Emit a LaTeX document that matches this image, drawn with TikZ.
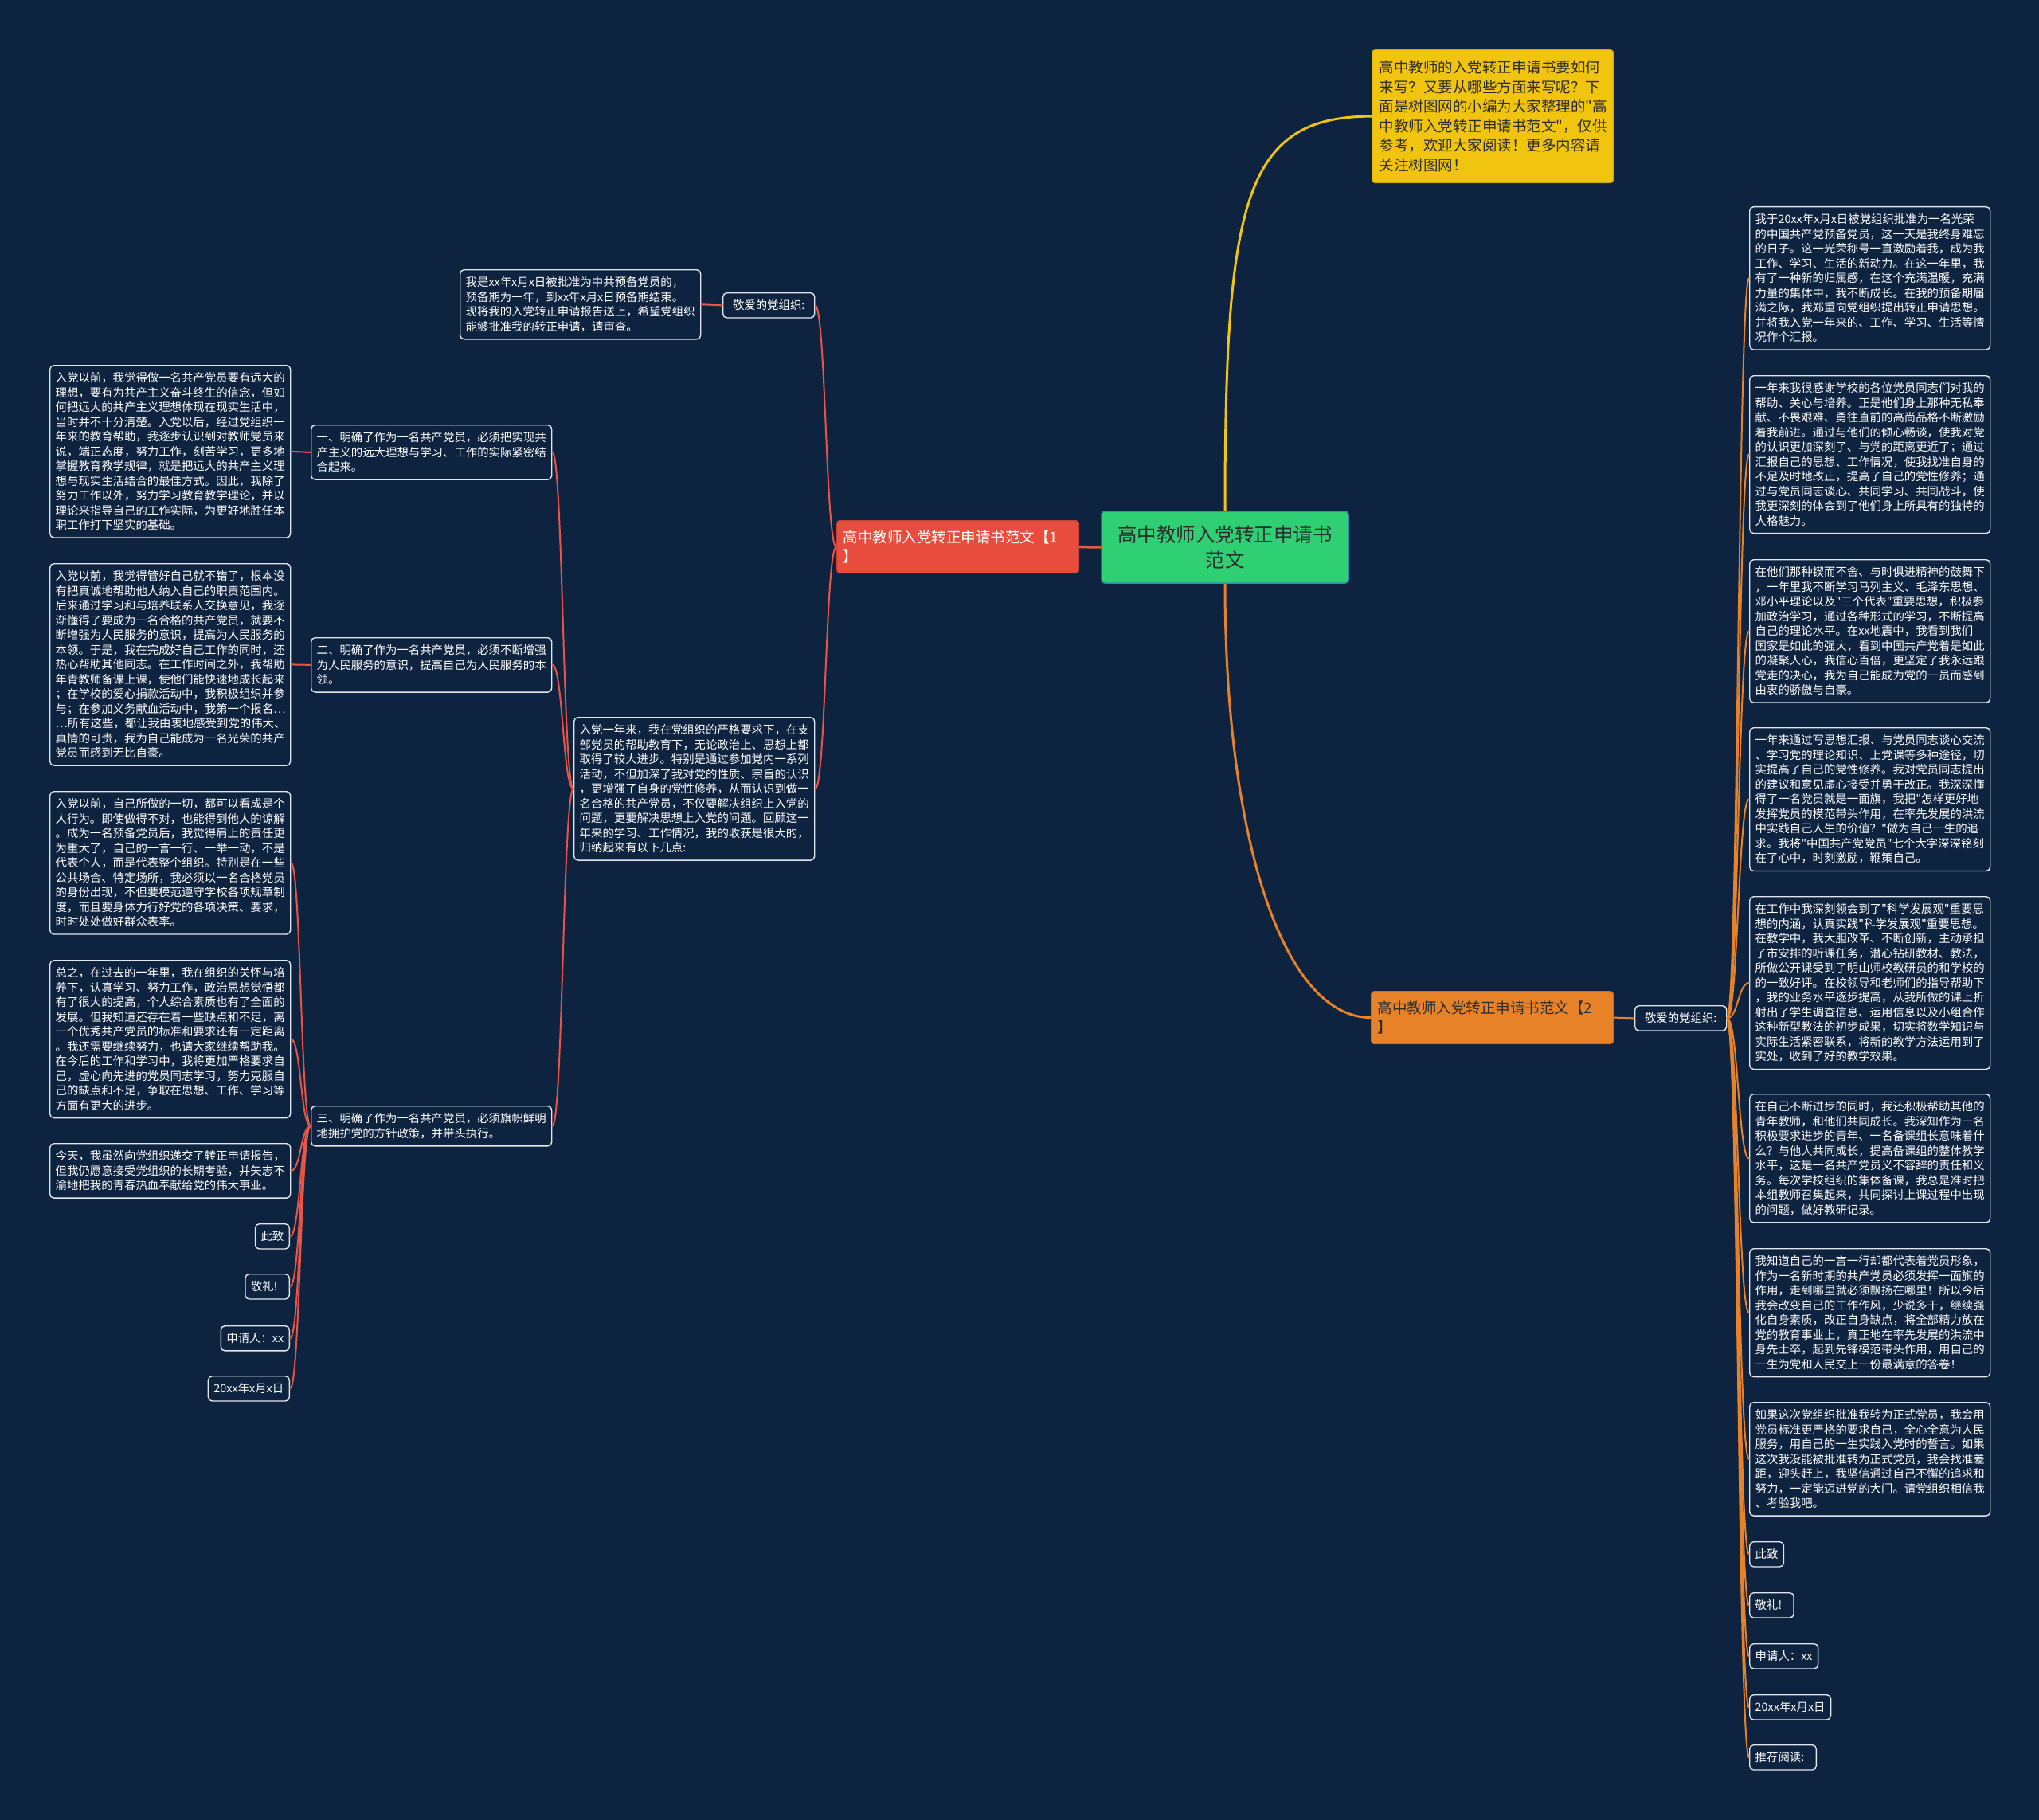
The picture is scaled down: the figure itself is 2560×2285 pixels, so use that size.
\documentclass[tikz,border=0pt]{standalone}
\usepackage{fontspec}
\usetikzlibrary{calc}
\newfontfamily\cjk{Noto Sans CJK SC}
\definecolor{bg}{RGB}{14,35,63}
\definecolor{lineR}{RGB}{232,84,70}
\definecolor{lineO}{RGB}{232,130,40}
\definecolor{lineY}{RGB}{241,196,15}
\definecolor{nodeG}{RGB}{46,208,115}
\definecolor{nodeGedge}{RGB}{45,140,190}
\definecolor{nodeR}{RGB}{231,76,60}
\definecolor{nodeO}{RGB}{232,130,40}
\definecolor{nodeY}{RGB}{241,196,15}
\definecolor{boxedge}{RGB}{226,231,238}
\definecolor{darktxt}{RGB}{45,45,45}
\tikzset{
  leaf/.style={draw=boxedge, line width=1.4pt, rounded corners=5pt, fill=bg, text=white,
    font=\cjk\fontsize{14.4}{18.5}\selectfont, align=left, inner xsep=7pt, inner ysep=9pt},
  bigleaf/.style={leaf, text width=288pt},
  topic/.style={rounded corners=4pt, line width=1.2pt, align=left, text width=288pt,
    inner xsep=8pt, minimum height=66pt, font=\cjk\fontsize{18.5}{24.5}\selectfont},
  sublink/.style={line width=2pt, line cap=round},
  mmcurve/.style={to path={let \p1=(\tikztostart), \p2=(\tikztotarget) in
    .. controls ({(\x1+\x2)/2},\y1) and ({(\x1+\x2)/2},\y2) .. (\tikztotarget)}},
}
\begin{document}
\begin{tikzpicture}[x=1pt,y=-1pt]
\useasboundingbox (0,0) rectangle (2560,2285);
\fill[bg] (0,0) rectangle (2560,2285);

% central node
\node[draw=nodeGedge, fill=nodeG, line width=1.5pt, rounded corners=4pt, text=darktxt,
  minimum width=310pt, minimum height=90pt, align=center,
  font=\cjk\fontsize{24.5}{32.5}\selectfont] (c) at (1538,687) {高中教师入党转正申请书\\范文};

% main topics
\node[topic, anchor=north west, fill=nodeR, draw=nodeR!85!black, text=white] (r) at (1050,653)
  {高中教师入党转正申请书范文【1\\】};
\node[topic, anchor=north west, fill=nodeO, draw=nodeO!85!black, text=darktxt] (o) at (1721,1244)
  {高中教师入党转正申请书范文【2\\】};
\node[anchor=north west, fill=nodeY, draw=nodeY!85!black, line width=1.2pt, rounded corners=4pt,
  text=darktxt, align=left, text width=285pt, inner xsep=9pt, minimum height=167pt,
  font=\cjk\fontsize{18.5}{24.5}\selectfont] (y) at (1722,62)
  {高中教师的入党转正申请书要如何\\来写？又要从哪些方面来写呢？下\\面是树图网的小编为大家整理的"高\\中教师入党转正申请书范文"，仅供\\参考，欢迎大家阅读！更多内容请\\关注树图网！};

% ---------- left branch ----------
\node[leaf, anchor=north west, minimum width=115pt] (kL) at (907,367) {敬爱的党组织:};
\node[bigleaf, anchor=north west] (shi) at (577,338)
  {我是xx年x月x日被批准为中共预备党员的，\\预备期为一年，到xx年x月x日预备期结束。\\现将我的入党转正申请报告送上，希望党组织\\能够批准我的转正申请，请审查。};
\node[bigleaf, anchor=north west] (rd) at (720,900)
  {入党一年来，我在党组织的严格要求下，在支\\部党员的帮助教育下，无论政治上、思想上都\\取得了较大进步。特别是通过参加党内一系列\\活动，不但加深了我对党的性质、宗旨的认识\\，更增强了自身的党性修养，从而认识到做一\\名合格的共产党员，不仅要解决组织上入党的\\问题，更要解决思想上入党的问题。回顾这一\\年来的学习、工作情况，我的收获是很大的，\\归纳起来有以下几点:};
\node[bigleaf, anchor=north west] (b1) at (390,533)
  {一、明确了作为一名共产党员，必须把实现共\\产主义的远大理想与学习、工作的实际紧密结\\合起来。};
\node[bigleaf, anchor=north west] (b2) at (390,800)
  {二、明确了作为一名共产党员，必须不断增强\\为人民服务的意识，提高自己为人民服务的本\\领。};
\node[bigleaf, anchor=north west] (b3) at (390,1388)
  {三、明确了作为一名共产党员，必须旗帜鲜明\\地拥护党的方针政策，并带头执行。};

\node[bigleaf, anchor=north west] (l1) at (62,458)
  {入党以前，我觉得做一名共产党员要有远大的\\理想，要有为共产主义奋斗终生的信念，但如\\何把远大的共产主义理想体现在现实生活中，\\当时并不十分清楚。入党以后，经过党组织一\\年来的教育帮助，我逐步认识到对教师党员来\\说，端正态度，努力工作，刻苦学习，更多地\\掌握教育教学规律，就是把远大的共产主义理\\想与现实生活结合的最佳方式。因此，我除了\\努力工作以外，努力学习教育教学理论，并以\\理论来指导自己的工作实际，为更好地胜任本\\职工作打下坚实的基础。};
\node[bigleaf, anchor=north west] (l2) at (62,707)
  {入党以前，我觉得管好自己就不错了，根本没\\有把真诚地帮助他人纳入自己的职责范围内。\\后来通过学习和与培养联系人交换意见，我逐\\渐懂得了要成为一名合格的共产党员，就要不\\断增强为人民服务的意识，提高为人民服务的\\本领。于是，我在完成好自己工作的同时，还\\热心帮助其他同志。在工作时间之外，我帮助\\年青教师备课上课，使他们能快速地成长起来\\；在学校的爱心捐款活动中，我积极组织并参\\与；在参加义务献血活动中，我第一个报名…\\…所有这些，都让我由衷地感受到党的伟大、\\真情的可贵，我为自己能成为一名光荣的共产\\党员而感到无比自豪。};
\node[bigleaf, anchor=north west] (l3) at (62,993)
  {入党以前，自己所做的一切，都可以看成是个\\人行为。即使做得不对，也能得到他人的谅解\\。成为一名预备党员后，我觉得肩上的责任更\\为重大了，自己的一言一行、一举一动，不是\\代表个人，而是代表整个组织。特别是在一些\\公共场合、特定场所，我必须以一名合格党员\\的身份出现，不但要模范遵守学校各项规章制\\度，而且要身体力行好党的各项决策、要求，\\时时处处做好群众表率。};
\node[bigleaf, anchor=north west] (l4) at (62,1205)
  {总之，在过去的一年里，我在组织的关怀与培\\养下，认真学习、努力工作，政治思想觉悟都\\有了很大的提高，个人综合素质也有了全面的\\发展。但我知道还存在着一些缺点和不足，离\\一个优秀共产党员的标准和要求还有一定距离\\。我还需要继续努力，也请大家继续帮助我。\\在今后的工作和学习中，我将更加严格要求自\\己，虚心向先进的党员同志学习，努力克服自\\己的缺点和不足，争取在思想、工作、学习等\\方面有更大的进步。};
\node[bigleaf, anchor=north west] (l5) at (62,1435)
  {今天，我虽然向党组织递交了转正申请报告，\\但我仍愿意接受党组织的长期考验，并矢志不\\渝地把我的青春热血奉献给党的伟大事业。};
\node[leaf, anchor=north east] (lz) at (364,1536) {此致};
\node[leaf, anchor=north east] (lj) at (364,1599) {敬礼!\hspace{8pt}};
\node[leaf, anchor=north east] (ls) at (364,1664) {申请人：xx};
\node[leaf, anchor=north east] (ld) at (364,1727) {20xx年x月x日};

% ---------- right branch ----------
\node[leaf, anchor=north west, minimum width=115pt] (kR) at (2052,1262) {敬爱的党组织:};
\node[bigleaf, anchor=north west] (r1) at (2196,259)
  {我于20xx年x月x日被党组织批准为一名光荣\\的中国共产党预备党员，这一天是我终身难忘\\的日子。这一光荣称号一直激励着我，成为我\\工作、学习、生活的新动力。在这一年里，我\\有了一种新的归属感，在这个充满温暖，充满\\力量的集体中，我不断成长。在我的预备期届\\满之际，我郑重向党组织提出转正申请思想。\\并将我入党一年来的、工作、学习、生活等情\\况作个汇报。};
\node[bigleaf, anchor=north west] (r2) at (2196,471)
  {一年来我很感谢学校的各位党员同志们对我的\\帮助、关心与培养。正是他们身上那种无私奉\\献、不畏艰难、勇往直前的高尚品格不断激励\\着我前进。通过与他们的倾心畅谈，使我对党\\的认识更加深刻了、与党的距离更近了；通过\\汇报自己的思想、工作情况，使我找准自身的\\不足及时地改正，提高了自己的党性修养；通\\过与党员同志谈心、共同学习、共同战斗，使\\我更深刻的体会到了他们身上所具有的独特的\\人格魅力。};
\node[bigleaf, anchor=north west] (r3) at (2196,702)
  {在他们那种锲而不舍、与时俱进精神的鼓舞下\\，一年里我不断学习马列主义、毛泽东思想、\\邓小平理论以及"三个代表"重要思想，积极参\\加政治学习，通过各种形式的学习，不断提高\\自己的理论水平。在xx地震中，我看到我们\\国家是如此的强大，看到中国共产党着是如此\\的凝聚人心，我信心百倍，更坚定了我永远跟\\党走的决心，我为自己能成为党的一员而感到\\由衷的骄傲与自豪。};
\node[bigleaf, anchor=north west] (r4) at (2196,913)
  {一年来通过写思想汇报、与党员同志谈心交流\\、学习党的理论知识、上党课等多种途径，切\\实提高了自己的党性修养。我对党员同志提出\\的建议和意见虚心接受并勇于改正。我深深懂\\得了一名党员就是一面旗，我把"怎样更好地\\发挥党员的模范带头作用，在率先发展的洪流\\中实践自己人生的价值？"做为自己一生的追\\求。我将"中国共产党党员"七个大字深深铭刻\\在了心中，时刻激励，鞭策自己。};
\node[bigleaf, anchor=north west] (r5) at (2196,1125)
  {在工作中我深刻领会到了"科学发展观"重要思\\想的内涵，认真实践"科学发展观"重要思想。\\在教学中，我大胆改革、不断创新，主动承担\\了市安排的听课任务，潜心钻研教材、教法，\\所做公开课受到了明山师校教研员的和学校的\\的一致好评。在校领导和老师们的指导帮助下\\，我的业务水平逐步提高，从我所做的课上折\\射出了学生调查信息、运用信息以及小组合作\\这种新型教法的初步成果，切实将数学知识与\\实际生活紧密联系，将新的教学方法运用到了\\实处，收到了好的教学效果。};
\node[bigleaf, anchor=north west] (r6) at (2196,1373)
  {在自己不断进步的同时，我还积极帮助其他的\\青年教师，和他们共同成长。我深知作为一名\\积极要求进步的青年、一名备课组长意味着什\\么？与他人共同成长，提高备课组的整体教学\\水平，这是一名共产党员义不容辞的责任和义\\务。每次学校组织的集体备课，我总是准时把\\本组教师召集起来，共同探讨上课过程中出现\\的问题，做好教研记录。};
\node[bigleaf, anchor=north west] (r7) at (2196,1567)
  {我知道自己的一言一行却都代表着党员形象，\\作为一名新时期的共产党员必须发挥一面旗的\\作用，走到哪里就必须飘扬在哪里！所以今后\\我会改变自己的工作作风，少说多干，继续强\\化自身素质，改正自身缺点，将全部精力放在\\党的教育事业上，真正地在率先发展的洪流中\\身先士卒，起到先锋模范带头作用，用自己的\\一生为党和人民交上一份最满意的答卷！};
\node[bigleaf, anchor=north west] (r8) at (2196,1760)
  {如果这次党组织批准我转为正式党员，我会用\\党员标准更严格的要求自己，全心全意为人民\\服务，用自己的一生实践入党时的誓言。如果\\这次我没能被批准转为正式党员，我会找准差\\距，迎头赶上，我坚信通过自己不懈的追求和\\努力，一定能迈进党的大门。请党组织相信我\\、考验我吧。};
\node[leaf, anchor=north west] (rz) at (2196,1935) {此致};
\node[leaf, anchor=north west] (rj) at (2196,1999) {敬礼!\hspace{8pt}};
\node[leaf, anchor=north west] (rs) at (2196,2063) {申请人：xx};
\node[leaf, anchor=north west] (rdt) at (2196,2127) {20xx年x月x日};
\node[leaf, anchor=north west] (rt) at (2196,2190) {推荐阅读:\hspace{8pt}};

% ---------- connectors ----------
\draw[line width=3pt, lineY] (c.north) .. controls +(0,-390) and +(-160,0) .. (y.west);
\draw[line width=3pt, lineO] (c.south) .. controls +(0,320) and +(-110,0) .. (o.west);
\draw[line width=3.5pt, lineR] (c.west) -- (r.east);

\begin{scope}[sublink, lineR]
  \draw (r.west) to[mmcurve] (kL.east);
  \draw (r.west) to[mmcurve] (rd.east);
  \draw (kL.west) to[mmcurve] (shi.east);
  \foreach \t in {b1,b2,b3} \draw (rd.west) to[mmcurve] (\t.east);
  \draw (b1.west) to[mmcurve] (l1.east);
  \draw (b2.west) to[mmcurve] (l2.east);
  \foreach \t in {l3,l4,l5,lz,lj,ls,ld} \draw (b3.west) to[mmcurve] (\t.east);
\end{scope}
\begin{scope}[sublink, lineO]
  \draw (o.east) to[mmcurve] (kR.west);
  \foreach \t in {r1,r2,r3,r4,r5,r6,r7,r8,rz,rj,rs,rdt,rt} \draw (kR.east) to[mmcurve] (\t.west);
\end{scope}
\end{tikzpicture}
\end{document}
